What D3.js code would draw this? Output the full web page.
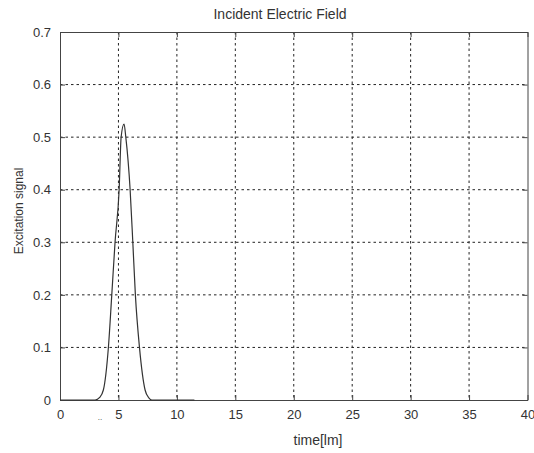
<!DOCTYPE html>
<html>
<head>
<meta charset="utf-8">
<script src="https://cdn.jsdelivr.net/npm/d3@7"></script>
<style>
  body { margin: 0; background: #fff; }
  text { font-family: "Liberation Sans", Arial, sans-serif; fill: #333; }
</style>
</head>
<body>
<div id="chart"></div>
<script>
// values
const timeValues = [0, 3.0, 3.4, 3.71, 4.14, 4.43, 4.71, 5.06, 5.23, 5.48, 5.63, 6.0, 6.23, 6.45, 6.8, 7.28, 7.6, 7.86, 11.5];
const signalValues = [0, 0, 0.005, 0.019, 0.1, 0.2, 0.3, 0.4, 0.5, 0.525, 0.5, 0.4, 0.3, 0.2, 0.1, 0.019, 0.004, 0, 0];
const xTicks = [0, 5, 10, 15, 20, 25, 30, 35, 40];
const yTicks = [0, 0.1, 0.2, 0.3, 0.4, 0.5, 0.6, 0.7];

const width = 534, height = 453;
const margin = {top: 32, right: 6.5, bottom: 53, left: 60};
const plotWidth = width - margin.left - margin.right;
const plotHeight = height - margin.top - margin.bottom;

const svg = d3.select("#chart").append("svg")
    .attr("width", width)
    .attr("height", height);

const x = d3.scaleLinear().domain([0, 40]).range([0, plotWidth]);
const y = d3.scaleLinear().domain([0, 0.7]).range([plotHeight, 0]);

const plot = svg.append("g")
    .attr("transform", `translate(${margin.left},${margin.top})`);

// grid
plot.append("g").selectAll("line")
    .data(xTicks.slice(1, -1))
    .join("line")
    .attr("x1", d => x(d)).attr("x2", d => x(d))
    .attr("y1", 0).attr("y2", plotHeight)
    .attr("stroke", "#222").attr("stroke-width", 1)
    .attr("stroke-dasharray", "2.5,3");

plot.append("g").selectAll("line")
    .data(yTicks.slice(1, -1))
    .join("line")
    .attr("y1", d => y(d)).attr("y2", d => y(d))
    .attr("x1", 0).attr("x2", plotWidth)
    .attr("stroke", "#222").attr("stroke-width", 1)
    .attr("stroke-dasharray", "2.5,3");

// axes, ticks inward like matlab
const xAxis = plot.append("g")
    .attr("transform", `translate(0,${plotHeight})`)
    .call(d3.axisBottom(x).tickValues(xTicks).tickSizeInner(-5).tickSizeOuter(0).tickPadding(10));
const xTop = plot.append("g")
    .call(d3.axisTop(x).tickValues(xTicks).tickSizeInner(-5).tickSizeOuter(0).tickFormat(""));
const yAxis = plot.append("g")
    .call(d3.axisLeft(y).tickValues(yTicks).tickSizeInner(-5).tickSizeOuter(0).tickPadding(9).tickFormat(d => d === 0 ? "0" : d3.format(".1f")(d)));
const yRight = plot.append("g")
    .attr("transform", `translate(${plotWidth},0)`)
    .call(d3.axisRight(y).tickValues(yTicks).tickSizeInner(-5).tickSizeOuter(0).tickFormat(""));

[xAxis, xTop, yAxis, yRight].forEach(g => {
    g.select(".domain").attr("stroke", "#444");
    g.selectAll(".tick line").attr("stroke", "#444");
    g.selectAll("text").attr("font-size", 13).attr("fill", "#333")
        .attr("font-family", "'Liberation Sans', Arial, sans-serif");
});

// signal
const line = d3.line()
    .x((d, i) => x(timeValues[i]))
    .y(d => y(d))
    .curve(d3.curveMonotoneX);

plot.append("path")
    .datum(signalValues)
    .attr("d", line)
    .attr("fill", "none")
    .attr("stroke", "#333")
    .attr("stroke-width", 1.2);

// labels
svg.append("text")
    .attr("x", 280).attr("y", 18.5)
    .attr("text-anchor", "middle")
    .attr("font-size", 14)
    .text("Incident Electric Field");

svg.append("text")
    .attr("x", 318).attr("y", 445)
    .attr("text-anchor", "middle")
    .attr("font-size", 14)
    .text("time[lm]");

svg.append("text")
    .attr("transform", "translate(23,211) rotate(-90)")
    .attr("text-anchor", "middle")
    .attr("font-size", 12)
    .text("Excitation signal");

svg.append("text")
    .attr("x", 100).attr("y", 420)
    .attr("text-anchor", "middle")
    .attr("font-size", 8)
    .attr("fill", "#888")
    .text("..");
</script>
</body>
</html>
